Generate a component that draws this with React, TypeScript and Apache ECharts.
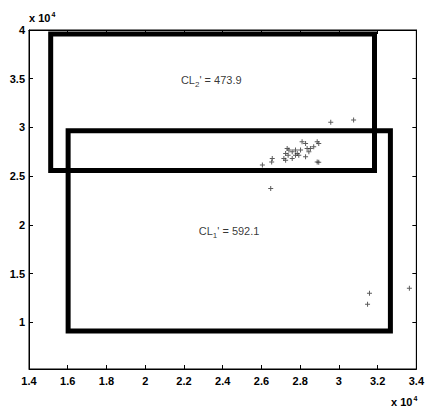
import React, { useEffect, useRef } from "react";
import * as echarts from "echarts";

// values in units of 10^4
const xMin = 1.4;
const xMax = 3.4;
const xStep = 0.2;
const yMin = 0.52;
const yMax = 4;
const yTickValues = [1, 1.5, 2, 2.5, 3, 3.5, 4];

const pointsX = [
  2.733, 2.742, 2.725, 2.716, 2.738, 2.759, 2.776, 2.785, 2.793, 2.802, 2.81, 2.828,
  2.836, 2.853, 2.845, 2.87, 2.888, 2.896, 2.888, 2.828, 2.776, 2.759, 2.725, 2.656,
  2.653, 2.605, 2.648, 2.958, 3.076, 2.896, 3.158, 3.148, 3.364,
];
const pointsY = [
  2.784, 2.767, 2.733, 2.681, 2.715, 2.749, 2.767, 2.733, 2.715, 2.767, 2.852, 2.836,
  2.784, 2.784, 2.749, 2.801, 2.852, 2.836, 2.646, 2.698, 2.715, 2.681, 2.664, 2.681,
  2.646, 2.613, 2.373, 3.054, 3.075, 2.643, 1.297, 1.184, 1.348,
];

const rect1X = [1.602, 3.266];
const rect1Y = [0.91, 2.965];
const rect2X = [1.512, 3.184];
const rect2Y = [2.558, 3.96];

const labelNames = ["CL|1|' = 592.1", "CL|2|' = 473.9"];
const labelX = [2.433, 2.341];
const labelY = [1.914, 3.466];

const FONT = "Liberation Sans, Arial, Helvetica, sans-serif";

function rectPath(xs: number[], ys: number[]) {
  return [
    [xs[0], ys[0]],
    [xs[1], ys[0]],
    [xs[1], ys[1]],
    [xs[0], ys[1]],
    [xs[0], ys[0]],
  ];
}

const CROSS = "path://M4,0h2v4h4v2h-4v4h-2v-4h-4v-2h4z";

export default function App() {
  const ref = useRef<HTMLDivElement>(null);
  useEffect(() => {
    if (!ref.current) return;
    const chart = echarts.init(ref.current, null, { renderer: "svg" });
    const axisCommon = {
      axisLine: { show: true, lineStyle: { color: "#000", width: 1 } },
      axisTick: { show: true, inside: true, length: 4, lineStyle: { color: "#000" } },
      splitLine: { show: false },
    };
    const labelStyle = {
      color: "#000",
      fontFamily: FONT,
      fontSize: 11,
      fontWeight: "bold" as const,
    };
    const expText = (left: number, top: number) => ({
      type: "text",
      left,
      top,
      style: {
        text: "x 10{s|4}",
        fontFamily: FONT,
        fontSize: 11,
        fontWeight: "bold",
        fill: "#000",
        rich: { s: { fontSize: 7, fontWeight: "bold", padding: [0, 0, 7, 1], fontFamily: FONT, fill: "#000" } },
      },
    });
    chart.setOption({
      animation: false,
      backgroundColor: "#fff",
      grid: {
        left: 29,
        right: 9,
        top: 30,
        bottom: 39,
        show: true,
        borderColor: "#000",
        borderWidth: 1,
      },
      xAxis: [
        {
          type: "value",
          min: xMin,
          max: xMax,
          interval: xStep,
          ...axisCommon,
          axisLabel: { ...labelStyle, margin: 6 },
        },
        {
          type: "value",
          position: "top",
          min: xMin,
          max: xMax,
          interval: xStep,
          ...axisCommon,
          axisLabel: { show: false },
        },
      ],
      yAxis: [
        {
          type: "value",
          min: yMin,
          max: yMax,
          ...axisCommon,
          axisTick: { ...axisCommon.axisTick, customValues: yTickValues },
          axisLabel: { ...labelStyle, margin: 4, customValues: yTickValues },
        },
        {
          type: "value",
          position: "right",
          min: yMin,
          max: yMax,
          ...axisCommon,
          axisTick: { ...axisCommon.axisTick, customValues: yTickValues },
          axisLabel: { show: false },
        },
      ],
      graphic: [expText(29, 11), expText(391, 395)],
      series: [
        {
          type: "line",
          data: rectPath(rect1X, rect1Y),
          showSymbol: false,
          lineStyle: { color: "#000", width: 5, join: "miter", cap: "square" },
          silent: true,
        },
        {
          type: "line",
          data: rectPath(rect2X, rect2Y),
          showSymbol: false,
          lineStyle: { color: "#000", width: 5, join: "miter", cap: "square" },
          silent: true,
        },
        {
          type: "scatter",
          data: pointsX.map((x, i) => [x, pointsY[i]]),
          symbol: CROSS,
          symbolSize: 5,
          itemStyle: { color: "#333", opacity: 0.8 },
        },
        {
          type: "scatter",
          data: labelX.map((x, i) => [x, labelY[i], labelNames[i]]),
          symbolSize: 0,
          itemStyle: { color: "#000" },
          label: {
            show: true,
            position: "top",
            distance: -6,
            color: "#000",
            textBorderWidth: 0,
            textBorderColor: "transparent",
            fontFamily: FONT,
            fontSize: 11,
            formatter: (p: any) => {
              const parts = String(p.value[2]).split("|");
              return `{m|${parts[0]}}{s|${parts[1]}}{m|${parts[2]}}`;
            },
            rich: {
              m: { fontFamily: FONT, fontSize: 11, color: "#000", textBorderWidth: 0 },
              s: { fontFamily: FONT, fontSize: 8, color: "#000", textBorderWidth: 0, padding: [8, 0, 0, 0] },
            },
          },
        },
      ],
    });
    return () => chart.dispose();
  }, []);
  return (
    <div
      ref={ref}
      style={{ position: "fixed", left: 0, top: 0, width: 427, height: 408, background: "#fff" }}
    />
  );
}
